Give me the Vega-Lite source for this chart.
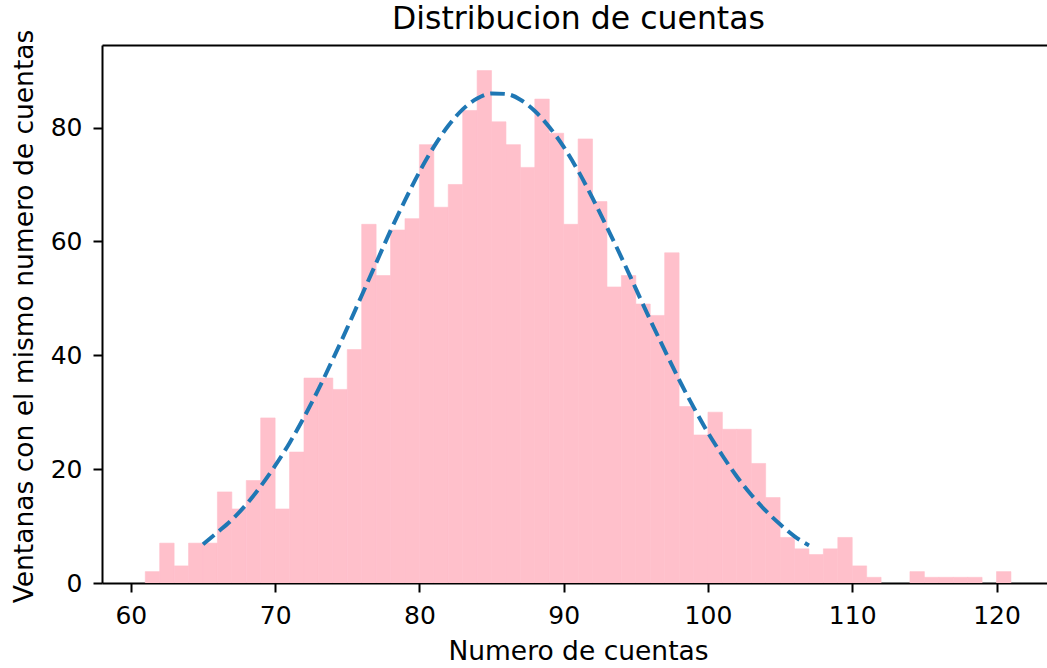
{
  "$schema": "https://vega.github.io/schema/vega-lite/v6.json",
  "autosize": {"type": "none"},
  "padding": {"left": 102, "top": 45, "right": 0, "bottom": 85},
  "width": 945,
  "height": 538,
  "background": "white",
  "title": {
    "text": "Distribucion de cuentas",
    "font": "DejaVu Sans",
    "fontSize": 31.5,
    "fontWeight": "normal",
    "color": "black",
    "anchor": "middle",
    "frame": "group",
    "offset": 8,
    "dy": 14,
    "dx": 4
  },
  "config": {
    "view": {"stroke": null},
    "font": "DejaVu Sans",
    "axis": {
      "grid": false,
      "domainColor": "black",
      "domainWidth": 2,
      "tickColor": "black",
      "tickWidth": 2,
      "tickSize": 9,
      "labelFont": "DejaVu Sans",
      "labelFontSize": 25,
      "labelColor": "black",
      "titleFont": "DejaVu Sans",
      "titleFontSize": 26.5,
      "titleFontWeight": "normal",
      "titleColor": "black"
    }
  },
  "datasets": {
    "hist": [
      {"lo": 61, "hi": 62, "count": 2},
      {"lo": 62, "hi": 63, "count": 7},
      {"lo": 63, "hi": 64, "count": 3},
      {"lo": 64, "hi": 65, "count": 7},
      {"lo": 65, "hi": 66, "count": 7},
      {"lo": 66, "hi": 67, "count": 16},
      {"lo": 67, "hi": 68, "count": 13},
      {"lo": 68, "hi": 69, "count": 18},
      {"lo": 69, "hi": 70, "count": 29},
      {"lo": 70, "hi": 71, "count": 13},
      {"lo": 71, "hi": 72, "count": 23},
      {"lo": 72, "hi": 73, "count": 36},
      {"lo": 73, "hi": 74, "count": 36},
      {"lo": 74, "hi": 75, "count": 34},
      {"lo": 75, "hi": 76, "count": 41},
      {"lo": 76, "hi": 77, "count": 63},
      {"lo": 77, "hi": 78, "count": 54},
      {"lo": 78, "hi": 79, "count": 62},
      {"lo": 79, "hi": 80, "count": 64},
      {"lo": 80, "hi": 81, "count": 77},
      {"lo": 81, "hi": 82, "count": 66},
      {"lo": 82, "hi": 83, "count": 70},
      {"lo": 83, "hi": 84, "count": 83},
      {"lo": 84, "hi": 85, "count": 90},
      {"lo": 85, "hi": 86, "count": 81},
      {"lo": 86, "hi": 87, "count": 77},
      {"lo": 87, "hi": 88, "count": 73},
      {"lo": 88, "hi": 89, "count": 85},
      {"lo": 89, "hi": 90, "count": 79},
      {"lo": 90, "hi": 91, "count": 63},
      {"lo": 91, "hi": 92, "count": 78},
      {"lo": 92, "hi": 93, "count": 67},
      {"lo": 93, "hi": 94, "count": 52},
      {"lo": 94, "hi": 95, "count": 54},
      {"lo": 95, "hi": 96, "count": 49},
      {"lo": 96, "hi": 97, "count": 47},
      {"lo": 97, "hi": 98, "count": 58},
      {"lo": 98, "hi": 99, "count": 31},
      {"lo": 99, "hi": 100, "count": 26},
      {"lo": 100, "hi": 101, "count": 30},
      {"lo": 101, "hi": 102, "count": 27},
      {"lo": 102, "hi": 103, "count": 27},
      {"lo": 103, "hi": 104, "count": 21},
      {"lo": 104, "hi": 105, "count": 15},
      {"lo": 105, "hi": 106, "count": 8},
      {"lo": 106, "hi": 107, "count": 6},
      {"lo": 107, "hi": 108, "count": 5},
      {"lo": 108, "hi": 109, "count": 6},
      {"lo": 109, "hi": 110, "count": 8},
      {"lo": 110, "hi": 111, "count": 3},
      {"lo": 111, "hi": 112, "count": 1},
      {"lo": 114, "hi": 115, "count": 2},
      {"lo": 115, "hi": 116, "count": 1},
      {"lo": 116, "hi": 117, "count": 1},
      {"lo": 117, "hi": 118, "count": 1},
      {"lo": 118, "hi": 119, "count": 1},
      {"lo": 120, "hi": 121, "count": 2}
    ],
    "fit": [
      {"x": 65, "y": 6.8},
      {"x": 66, "y": 8.9},
      {"x": 67, "y": 11.1},
      {"x": 68, "y": 13.8},
      {"x": 69, "y": 17.0},
      {"x": 70, "y": 20.6},
      {"x": 71, "y": 24.6},
      {"x": 72, "y": 29.1},
      {"x": 73, "y": 34.0},
      {"x": 74, "y": 39.3},
      {"x": 75, "y": 44.8},
      {"x": 76, "y": 50.5},
      {"x": 77, "y": 56.2},
      {"x": 78, "y": 61.9},
      {"x": 79, "y": 67.2},
      {"x": 80, "y": 72.2},
      {"x": 81, "y": 76.6},
      {"x": 82, "y": 80.3},
      {"x": 83, "y": 83.2},
      {"x": 84, "y": 85.1},
      {"x": 85, "y": 86.0},
      {"x": 86, "y": 85.9},
      {"x": 87, "y": 84.9},
      {"x": 88, "y": 82.9},
      {"x": 89, "y": 80.1},
      {"x": 90, "y": 76.6},
      {"x": 91, "y": 72.4},
      {"x": 92, "y": 67.6},
      {"x": 93, "y": 62.5},
      {"x": 94, "y": 57.2},
      {"x": 95, "y": 51.7},
      {"x": 96, "y": 46.2},
      {"x": 97, "y": 40.9},
      {"x": 98, "y": 35.7},
      {"x": 99, "y": 30.9},
      {"x": 100, "y": 26.4},
      {"x": 101, "y": 22.4},
      {"x": 102, "y": 18.7},
      {"x": 103, "y": 15.5},
      {"x": 104, "y": 12.7},
      {"x": 105, "y": 10.3},
      {"x": 106, "y": 8.2},
      {"x": 107, "y": 6.6}
    ]
  },
  "layer": [
    {
      "data": {"name": "hist"},
      "mark": {"type": "bar", "color": "#FFC0CB", "stroke": "#FFC0CB", "strokeWidth": 0.6, "clip": true, "binSpacing": 0},
      "encoding": {
        "x": {
          "field": "lo",
          "type": "quantitative",
          "scale": {"domain": [58, 123.5], "nice": false, "zero": false},
          "axis": {
            "orient": "bottom",
            "values": [60, 70, 80, 90, 100, 110, 120],
            "labelPadding": 11,
            "labelFlush": false,
            "title": "Numero de cuentas",
            "titleBaseline": "alphabetic",
            "titleY": 76,
            "titleX": 476
          }
        },
        "x2": {"field": "hi"},
        "y": {
          "field": "count",
          "type": "quantitative",
          "scale": {"domain": [0, 94.5], "nice": false},
          "axis": {
            "values": [0, 20, 40, 60, 80],
            "labelPadding": 11,
            "labelFlush": false,
            "title": "Ventanas con el mismo numero de cuentas",
            "titleAngle": -90,
            "titleBaseline": "alphabetic",
            "titleX": -70,
            "titleY": 271,
            "titleAlign": "center"
          }
        },
        "y2": {"datum": 0}
      }
    },
    {
      "data": {"name": "fit"},
      "mark": {"type": "line", "color": "#1f77b4", "strokeWidth": 4, "strokeDash": [14.6, 6.3], "interpolate": "monotone"},
      "encoding": {
        "x": {
          "field": "x",
          "type": "quantitative",
          "axis": {"orient": "top", "labels": false, "ticks": false, "title": null, "domain": true}
        },
        "y": {"field": "y", "type": "quantitative"}
      }
    }
  ]
}
